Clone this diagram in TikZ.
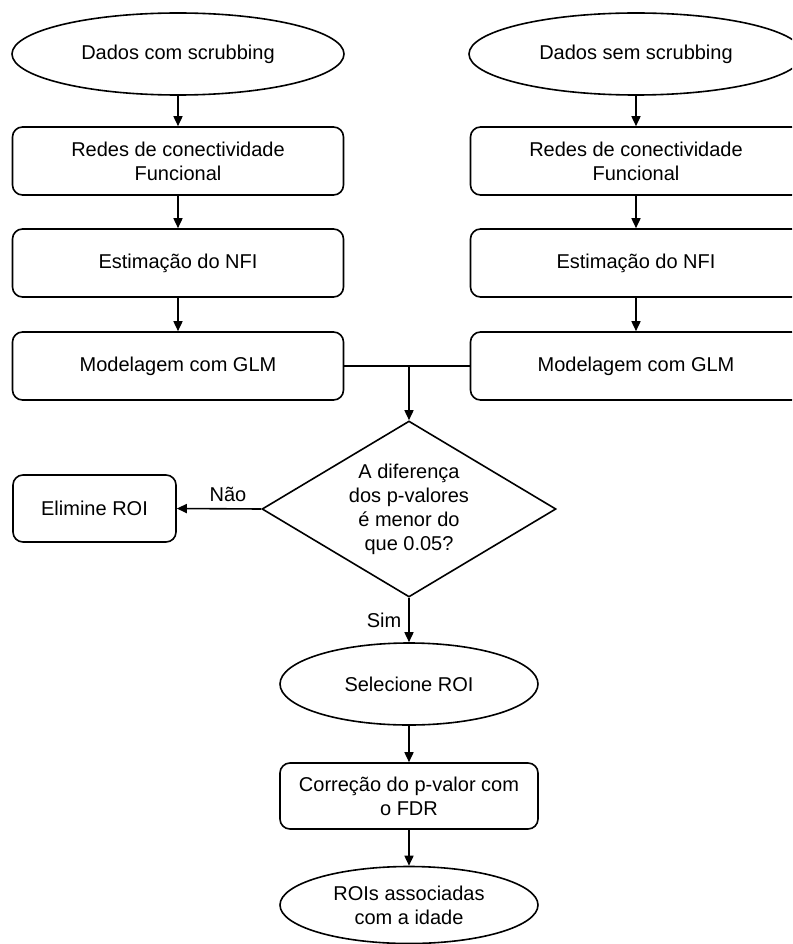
\documentclass[tikz,border=0pt]{standalone}
\usepackage{fontspec}
\setmainfont{Liberation Sans}
\usetikzlibrary{shapes.geometric,arrows.meta}
\begin{document}
\begin{tikzpicture}[x=1pt,y=-1pt,
  every node/.style={font=\fontsize{20}{24}\selectfont, align=center, inner sep=0pt},
  stepbox/.style={draw, line width=1.6pt, rounded corners=10pt, minimum width=331pt, minimum height=68pt},
  smallbox/.style={draw, line width=1.6pt, rounded corners=10pt},
  terminal/.style={draw, line width=1.6pt, ellipse},
  decision/.style={draw, line width=1.6pt, diamond, aspect=1.67, minimum width=294pt, minimum height=176pt},
  conn/.style={line width=1.6pt},
  arr/.style={line width=1.6pt, -{Triangle[length=10pt,width=9pt]}}
]
\useasboundingbox (0,0) rectangle (792,944);
\clip (0,0) rectangle (792,944);

% left column
\node[terminal, minimum width=332pt, minimum height=82pt] (e1) at (178,54) {Dados com scrubbing};
\node[stepbox] (l1) at (178,161) {Redes de conectividade\\Funcional};
\node[stepbox] (l2) at (178,263) {Estimação do NFI};
\node[stepbox] (l3) at (178,366) {Modelagem com GLM};

% right column
\node[terminal, minimum width=334pt, minimum height=82pt] (e2) at (636,54) {Dados sem scrubbing};
\node[stepbox] (r1) at (636,161) {Redes de conectividade\\Funcional};
\node[stepbox] (r2) at (636,263) {Estimação do NFI};
\node[stepbox] (r3) at (636,366) {Modelagem com GLM};

\coordinate (j) at (409,366);

% decision
\node[decision] (d) at (409,509) {A diferença\\dos p-valores\\é menor do\\que 0.05?};
\node[smallbox, minimum width=163pt, minimum height=67pt] (elim) at (94.5,508.5) {Elimine ROI};
\node[terminal, minimum width=258pt, minimum height=82pt] (sel) at (409,684) {Selecione ROI};
\node[smallbox, minimum width=258pt, minimum height=66pt] (fdr) at (409,796) {Correção do p-valor com\\o FDR};
\node[terminal, minimum width=258pt, minimum height=77pt] (rois) at (409,905) {ROIs associadas\\com a idade};

% labels
\node (nao) at (228,494) {Não};
\node (sim) at (384,620) {Sim};

% connectors
\draw[arr] (e1) -- (l1);
\draw[arr] (l1) -- (l2);
\draw[arr] (l2) -- (l3);
\draw[arr] (e2) -- (r1);
\draw[arr] (r1) -- (r2);
\draw[arr] (r2) -- (r3);
\draw[conn] (l3.east) -- (r3.west);
\draw[arr] (j) -- (d.north);
\draw[arr] (d.west) -- (elim.east);
\draw[arr] (d.south) -- (sel.north);
\draw[arr] (sel) -- (fdr);
\draw[arr] (fdr) -- (rois);
\end{tikzpicture}
\end{document}
